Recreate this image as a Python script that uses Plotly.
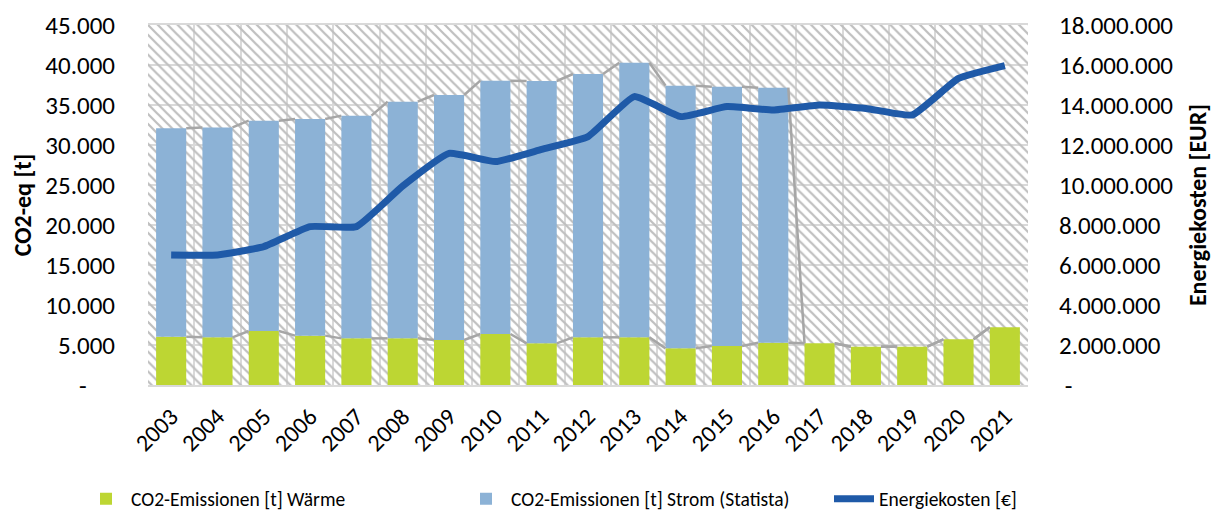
import plotly.graph_objects as go

years = ['2003', '2004', '2005', '2006', '2007', '2008', '2009', '2010', '2011', '2012',
         '2013', '2014', '2015', '2016', '2017', '2018', '2019', '2020', '2021']

# CO2-Emissionen [t] Wärme
co2_waerme = [6040, 5960, 6750, 6170, 5830, 5830, 5625, 6375, 5210, 5960,
              5960, 4580, 4875, 5290, 5210, 4790, 4790, 5710, 7210]
# Stapelhöhe (Wärme + Strom), Strom nur bis 2016
co2_total = [32080, 32200, 33040, 33250, 33670, 35420, 36250, 38040, 38000, 38875,
             40290, 37420, 37290, 37170]
co2_strom = [t - w for t, w in zip(co2_total, co2_waerme)] + [0] * (len(years) - len(co2_total))

# Energiekosten [EUR]
energiekosten = [6500000, 6500000, 6920000, 7920000, 7920000, 9950000, 11580000, 11170000,
                 11780000, 12420000, 14420000, 13420000, 13920000, 13750000, 14000000,
                 13830000, 13500000, 15330000, 15970000]

co2_ticks = [0, 5000, 10000, 15000, 20000, 25000, 30000, 35000, 40000, 45000]
co2_ticklabels = ['-\u00a0\u00a0\u00a0\u00a0\u00a0', '5.000', '10.000', '15.000', '20.000',
                  '25.000', '30.000', '35.000', '40.000', '45.000']
eur_ticks = [0, 2000000, 4000000, 6000000, 8000000, 10000000, 12000000, 14000000,
             16000000, 18000000]
eur_ticklabels = ['\u00a0-', '2.000.000', '4.000.000', '6.000.000', '8.000.000', '10.000.000',
                  '12.000.000', '14.000.000', '16.000.000', '18.000.000']

color_waerme = '#bdd633'
color_strom = '#8cb2d6'
color_kosten = '#1f5aa8'
color_grid = '#d9d9d9'
color_hatch = '#bfbfbf'
color_serieslines = '#a6a6a6'
font = 'Calibri, Carlito, Noto Sans, sans-serif'

# die Seite hat 8px Rand, daher etwas kleiner als das Fenster
fig_w, fig_h = 1214, 504

n = len(years)
xs = list(range(n))
bar_w = 0.65
base_strom = co2_waerme
stack_top = [w + s for w, s in zip(co2_waerme, co2_strom)]


def series_lines(tops):
    # Excel-Verbindungslinien zwischen den Balken
    lx, ly = [], []
    for i in range(n - 1):
        lx += [xs[i] + bar_w / 2, xs[i + 1] - bar_w / 2, None]
        ly += [tops[i], tops[i + 1], None]
    return lx, ly


def legend_at(px):
    return dict(orientation='h', xref='container', x=px / fig_w, xanchor='left',
                yref='container', y=1 - 491 / fig_h, yanchor='middle',
                font=dict(size=19.5), itemwidth=40, bgcolor='rgba(0,0,0,0)')


fig = go.Figure()

# schraffierter Hintergrund der Zeichenfläche
fig.add_trace(go.Bar(
    x=[(n - 1) / 2], y=[co2_ticks[-1]], width=[n],
    marker=dict(color='rgba(0,0,0,0)', line=dict(width=0),
                pattern=dict(shape='\\', size=7, solidity=0.32, fillmode='replace',
                             fgcolor=color_hatch, bgcolor='rgba(0,0,0,0)')),
    showlegend=False, hoverinfo='skip'
))
fig.add_trace(go.Bar(
    name='CO2-Emissionen [t] Wärme', x=xs, y=co2_waerme, width=bar_w,
    marker=dict(color=color_waerme, line=dict(width=0)), legend='legend'
))
fig.add_trace(go.Bar(
    name='CO2-Emissionen [t] Strom (Statista)', x=xs, y=co2_strom, base=base_strom, width=bar_w,
    marker=dict(color=color_strom, line=dict(width=0)), legend='legend2'
))
for tops in (co2_waerme, stack_top):
    lx, ly = series_lines(tops)
    fig.add_trace(go.Scatter(
        x=lx, y=ly, mode='lines', line=dict(color=color_serieslines, width=2.5),
        showlegend=False, hoverinfo='skip'
    ))
fig.add_trace(go.Scatter(
    name='Energiekosten [€]', x=xs, y=energiekosten, yaxis='y2', mode='lines',
    line=dict(color=color_kosten, width=7, shape='spline', smoothing=0.4), legend='legend3'
))

fig.update_layout(
    width=fig_w, height=fig_h,
    margin=dict(l=140, r=194, t=17, b=127),
    paper_bgcolor='white', plot_bgcolor='white',
    barmode='overlay',
    font=dict(family=font, size=25, color='#000000'),
    xaxis=dict(
        range=[-0.5, n - 0.5], tickmode='array', tickvals=xs, ticktext=years,
        tickangle=-45, showgrid=False, zeroline=False, ticks='', automargin=False,
        showline=True, linecolor=color_grid, linewidth=2, mirror=True,
        minor=dict(dtick=1, tick0=0.5, showgrid=True, gridcolor=color_grid, gridwidth=2),
        tickfont=dict(size=24), ticklabelstandoff=6
    ),
    yaxis=dict(
        range=[0, co2_ticks[-1]], tickmode='array', tickvals=co2_ticks, ticktext=co2_ticklabels,
        showgrid=True, gridcolor=color_grid, gridwidth=2, zeroline=False, ticks='',
        ticklabelstandoff=32, automargin=False,
        title=dict(text='<b>CO2-eq [t]</b>', font=dict(size=24), standoff=10)
    ),
    yaxis2=dict(
        range=[0, eur_ticks[-1]], tickmode='array', tickvals=eur_ticks, ticktext=eur_ticklabels,
        overlaying='y', side='right', showgrid=False, zeroline=False, ticks='',
        ticklabelstandoff=30, automargin=False,
        title=dict(text='<b>Energiekosten [EUR]</b>', font=dict(size=24), standoff=16)
    ),
    legend=legend_at(73),
    legend2=legend_at(453),
    legend3=legend_at(821),
    showlegend=True
)

fig.write_html('out.html')
